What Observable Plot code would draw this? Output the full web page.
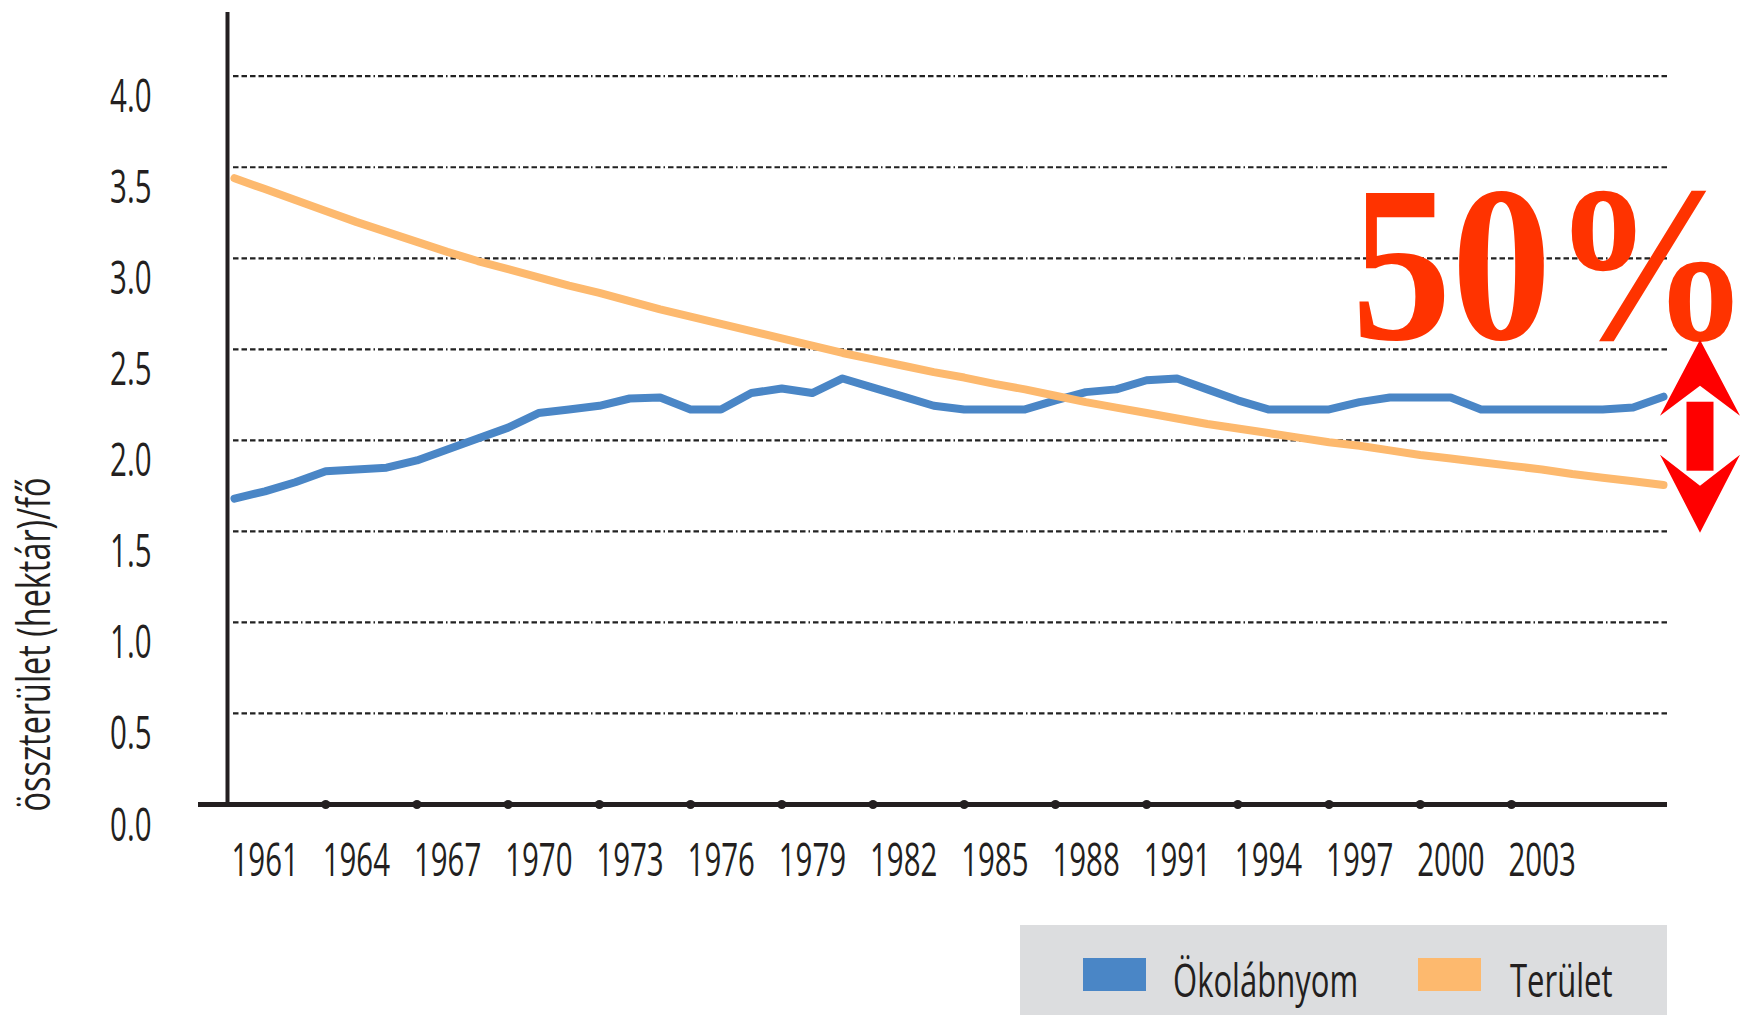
<!DOCTYPE html>
<html><head><meta charset="utf-8">
<script src="https://cdn.jsdelivr.net/npm/d3@7"></script>
<script src="https://cdn.jsdelivr.net/npm/@observablehq/plot@0.6"></script>
<style>
body{margin:0;background:#fff;overflow:hidden}
#chart{width:1754px}
svg{display:block}
</style></head><body><div id="chart"></div>
<script>
// ---- data ----
const years = [1961,1962,1963,1964,1965,1966,1967,1968,1969,1970,1971,1972,1973,1974,1975,1976,1977,1978,1979,1980,
  1981,1982,1983,1984,1985,1986,1987,1988,1989,1990,1991,1992,1993,1994,1995,1996,1997,1998,1999,2000,
  2001,2002,2003,2004,2005,2006,2007,2008];
const footprint = [1.68,1.72,1.77,1.83,1.84,1.85,1.89,1.95,2.01,2.07,2.15,2.17,2.19,2.23,2.235,2.17,2.17,2.26,2.285,2.26,
  2.34,2.29,2.24,2.19,2.17,2.17,2.17,2.22,2.265,2.28,2.33,2.34,2.28,2.22,2.17,2.17,2.17,2.21,2.235,2.235,
  2.235,2.17,2.17,2.17,2.17,2.17,2.18,2.24];
const area = [3.44,3.38,3.32,3.26,3.20,3.145,3.09,3.035,2.985,2.94,2.895,2.85,2.81,2.765,2.72,2.68,2.64,2.60,2.56,2.52,
  2.48,2.445,2.41,2.375,2.345,2.31,2.28,2.245,2.21,2.18,2.15,2.12,2.09,2.065,2.04,2.015,1.99,1.97,1.945,1.92,
  1.90,1.88,1.86,1.84,1.815,1.795,1.775,1.755];
const seriesNames = ["Ökolábnyom", "Terület"];
const seriesColors = ["#4A86C6", "#FDB96E"];
const xTickYears = [1961,1964,1967,1970,1973,1976,1979,1982,1985,1988,1991,1994,1997,2000,2003];
const tickDotYears = [1964,1967,1970,1973,1976,1979,1982,1985,1988,1991,1994,1997,2000,2003];
const yTicks = [0,0.5,1.0,1.5,2.0,2.5,3.0,3.5,4.0];
const yTitle = "összterület (hektár)/fő";
const annotation = "50%";

const FONT = "'Open Sans', 'Noto Sans', sans-serif";
const INK = "#231f20";
const COND = 0.64;

const rows = years.flatMap((yr, i) => [
  {year: yr, value: footprint[i], series: seriesNames[0]},
  {year: yr, value: area[i], series: seriesNames[1]}
]);

// red double arrow annotation, placed relative to the frame and y scale
function arrowMark(index, scales, values, dims) {
  const cx = dims.width - dims.marginRight + 33;
  const t = scales.y(2.55), b = scales.y(1.49);
  const H = b - t, k = H / 193;
  const hw = 40 * k, sw = 13.5 * k;
  const g = d3.create("svg:g").attr("fill", "#FF0000");
  g.append("path").attr("d",
    `M${cx},${t} L${cx + hw},${t + 76 * k} L${cx},${t + 46 * k} L${cx - hw},${t + 76 * k} Z`);
  g.append("rect").attr("x", cx - sw).attr("y", t + 62 * k).attr("width", 2 * sw).attr("height", 69 * k);
  g.append("path").attr("d",
    `M${cx},${b} L${cx + hw},${t + 115 * k} L${cx},${t + 146 * k} L${cx - hw},${t + 115 * k} Z`);
  return g.node();
}

const dash = "5.5,3,5.5,3,5.5,3,5.5,3,5.5,3,5.5,3,5.5,3,5.5,3,1.5,3";

const plot = Plot.plot({
  width: 1754, height: 900,
  marginLeft: 227, marginRight: 87, marginTop: 12, marginBottom: 96,
  x: {domain: [1961, 2008], insetLeft: 7, insetRight: 4, label: null},
  y: {domain: [0, 4.35], label: null},
  color: {domain: seriesNames, range: seriesColors},
  style: {fontFamily: FONT, background: "transparent", overflow: "visible"},
  marks: [
    Plot.ruleY(yTicks.filter(d => d > 0), {stroke: "#222", strokeWidth: 2.2, strokeDasharray: dash, insetLeft: 6}),
    Plot.line(rows, {x: "year", y: "value", z: "series", stroke: "series", strokeWidth: 8}),
    Plot.ruleY([0], {stroke: INK, strokeWidth: 5, insetLeft: -29}),
    Plot.ruleX([years[0]], {dx: -7, stroke: INK, strokeWidth: 4}),
    Plot.dot(tickDotYears, {x: d => d, y: 0, r: 4.5, fill: INK}),
    Plot.axisY({ticks: yTicks, tickSize: 0, tickPadding: 76, tickFormat: d3.format(".1f"),
      fontSize: 46, lineAnchor: "bottom", textAnchor: "end", dy: 36, fill: INK, fontWeight: 400, label: null}),
    Plot.axisX({ticks: xTickYears, tickSize: 0, tickPadding: 71, tickFormat: d => String(d),
      fontSize: 46, lineAnchor: "bottom", textAnchor: "start", dx: -3, fill: INK, fontWeight: 400, label: null}),
    Plot.text([yTitle], {text: d => d, frameAnchor: "left", rotate: -90, dx: -178, dy: 236,
      lineAnchor: "bottom", textAnchor: "middle", fontSize: 45, fill: INK, fontWeight: 400}),
    Plot.text([annotation], {text: d => d, frameAnchor: "top-left", dx: 1124, dy: 326,
      lineAnchor: "bottom", textAnchor: "start", fontSize: 222, fontWeight: "bold",
      fontFamily: "'Liberation Serif', 'Times New Roman', serif", fill: "#FF3300"}),
    arrowMark
  ]
});

// condense the text horizontally (the original uses a condensed face)
d3.select(plot).selectAll("text").each(function() {
  const txt = this.textContent;
  const s = txt === annotation ? 0.9 : txt === yTitle ? 0.72 : COND;
  const tr = this.getAttribute("transform");
  if (tr) this.setAttribute("transform", tr + ` scale(${s},1)`);
});
document.getElementById("chart").appendChild(plot);

// legend below the chart
const leg = d3.create("svg").attr("width", 1754).attr("height", 115)
  .style("font-family", FONT);
leg.append("rect").attr("x", 1020).attr("y", 25).attr("width", 647).attr("height", 90).attr("fill", "#DCDDDF");
const legItems = [
  {name: seriesNames[0], color: seriesColors[0], sx: 1083, tx: 1173},
  {name: seriesNames[1], color: seriesColors[1], sx: 1418, tx: 1510}
];
for (const it of legItems) {
  leg.append("rect").attr("x", it.sx).attr("y", 58).attr("width", 63).attr("height", 33).attr("fill", it.color);
  leg.append("text").attr("transform", `translate(${it.tx},97) scale(0.69,1)`)
    .attr("font-size", 45).attr("font-weight", 400).attr("fill", INK).text(it.name);
}
document.getElementById("chart").appendChild(leg.node());
</script>
</body></html>
